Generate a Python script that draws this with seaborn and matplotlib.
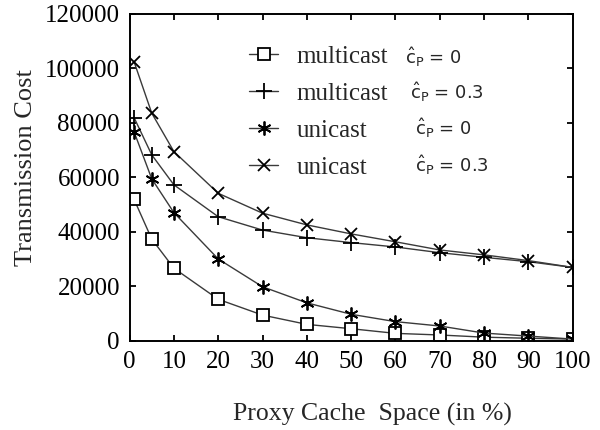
import matplotlib
matplotlib.use("Agg")
import matplotlib.pyplot as plt
import seaborn as sns
import pandas as pd

# ---- data ----
cache_space = [1, 5, 10, 20, 30, 40, 50, 60, 70, 80, 90, 100]
multicast_0 = [52000, 37400, 26700, 15300, 9500, 6100, 4500, 2800, 2200, 1400, 1000, 700]
multicast_03 = [82000, 68300, 57300, 45600, 40700, 37900, 36100, 34500, 32400, 30700, 29100, 27000]
unicast_0 = [76800, 59500, 47100, 30100, 19900, 14000, 9800, 7100, 5500, 2900, 1800, 700]
unicast_03 = [102500, 83600, 69500, 54200, 46900, 42600, 39300, 36400, 33400, 31600, 29500, 27000]

series_names = ["multicast", "multicast", "unicast", "unicast"]
series_params = [r"$\hat{\mathrm{c}}_{\mathrm{P}}$ = 0", r"$\hat{\mathrm{c}}_{\mathrm{P}}$ = 0.3",
                 r"$\hat{\mathrm{c}}_{\mathrm{P}}$ = 0", r"$\hat{\mathrm{c}}_{\mathrm{P}}$ = 0.3"]
series_values = [multicast_0, multicast_03, unicast_0, unicast_03]

x_ticks = [0, 10, 20, 30, 40, 50, 60, 70, 80, 90, 100]
y_ticks = [0, 20000, 40000, 60000, 80000, 100000, 120000]
x_label = "Proxy Cache  Space (in %)"
y_label = "Transmission Cost"

sns.set_style("ticks")
plt.rcParams["font.family"] = ["Liberation Serif", "DejaVu Serif"]
plt.rcParams["mathtext.fontset"] = "dejavusans"

fig = plt.figure(figsize=(6.0, 4.3), dpi=100)
ax = fig.add_axes([0.216, 0.207, 0.7385, 0.7605])

markers = ["s", "+", (6, 2, 0), "x"]
msizes = [8.5, 11, 10, 9]
line_color = "#3a3a3a"

for i, (name, vals) in enumerate(zip(series_names, series_values)):
    df = pd.DataFrame({"x": cache_space, "y": vals})
    mk = markers[i]
    kw = dict(marker=mk, markersize=msizes[i], markeredgecolor="black",
              markeredgewidth=1.3, linewidth=1.0, color=line_color)
    if mk == "s":
        kw["markerfacecolor"] = "white"
    sns.lineplot(data=df, x="x", y="y", ax=ax, label=name, **kw)

ax.set_xlim(0, 100)
ax.set_ylim(0, 120000)
ax.set_xticks(x_ticks)
ax.set_yticks(y_ticks)
ax.set_xticklabels([str(t) for t in x_ticks])
ax.set_yticklabels([str(t) for t in y_ticks])
ax.tick_params(direction="in", length=4, width=1.3, top=True, right=True,
               labelsize=18, colors="black", pad=7)
for s in ax.spines.values():
    s.set_linewidth(1.4)
    s.set_color("black")
    s.set_visible(True)

ax.set_xlabel(x_label, fontsize=18.5)
ax.set_ylabel(y_label, fontsize=19)
ax.xaxis.set_label_coords(0.547, -0.19)
ax.yaxis.set_label_coords(-0.21, 0.53)

h, l = ax.get_legend_handles_labels()
leg = ax.legend(h, l, loc="upper left", bbox_to_anchor=(0.27, 0.905),
                frameon=False, fontsize=18, handlelength=1.15, handletextpad=0.75,
                labelspacing=0.58, borderpad=0, borderaxespad=0, numpoints=1)

param_pos = [(0.622, 0.868), (0.633, 0.761), (0.644, 0.651), (0.644, 0.538)]
for (px, py), txt in zip(param_pos, series_params):
    ax.text(px, py, txt, transform=ax.transAxes, fontsize=13, va="center", ha="left",
            family=["DejaVu Sans"])

fig.savefig("out.png", dpi=100)
